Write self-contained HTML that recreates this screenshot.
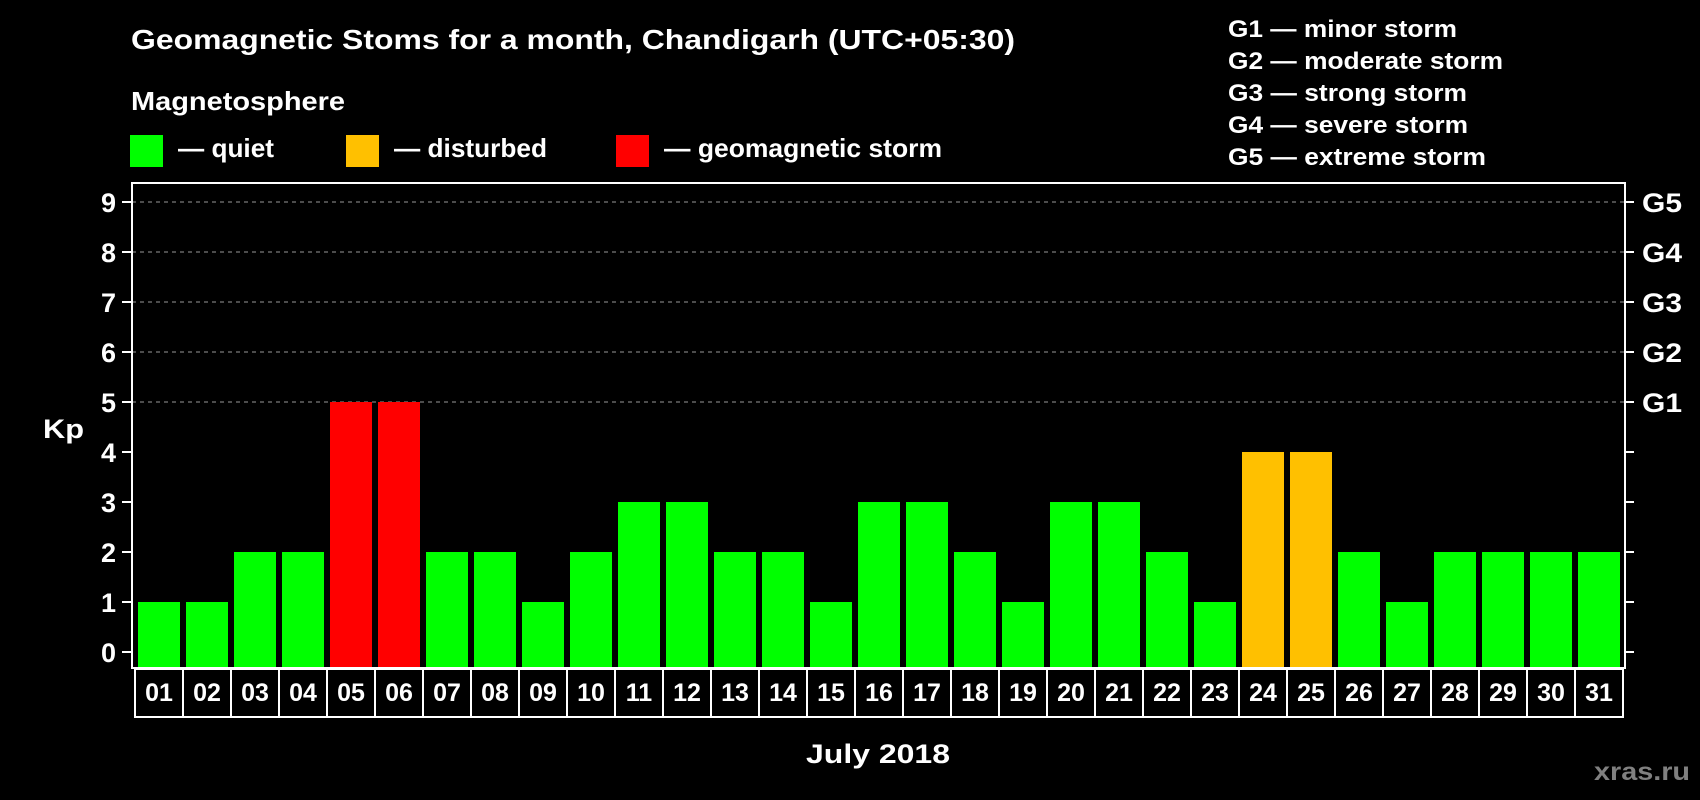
<!DOCTYPE html>
<html><head><meta charset="utf-8"><style>
html,body{margin:0;padding:0;background:#000;}
svg{display:block;font-family:"Liberation Sans",Arial,sans-serif;font-weight:bold;}
</style></head><body>
<svg id="chart" width="1700" height="800" viewBox="0 0 1700 800" xmlns="http://www.w3.org/2000/svg">
<text x="131" y="49" fill="#fff" font-size="28" textLength="884" lengthAdjust="spacingAndGlyphs">Geomagnetic Stoms for a month, Chandigarh (UTC+05:30)</text>
<text x="131" y="110" fill="#fff" font-size="26" textLength="214" lengthAdjust="spacingAndGlyphs">Magnetosphere</text>
<g><rect x="130" y="135" width="33" height="32" fill="#00ff00"/><text x="178" y="157" fill="#fff" font-size="26" textLength="96" lengthAdjust="spacingAndGlyphs">— quiet</text></g>
<g><rect x="346" y="135" width="33" height="32" fill="#ffc000"/><text x="394" y="157" fill="#fff" font-size="26" textLength="153" lengthAdjust="spacingAndGlyphs">— disturbed</text></g>
<g><rect x="616" y="135" width="33" height="32" fill="#ff0000"/><text x="664" y="157" fill="#fff" font-size="26" textLength="278" lengthAdjust="spacingAndGlyphs">— geomagnetic storm</text></g>
<g fill="#fff" font-size="24">
<text x="1228" y="37" textLength="229" lengthAdjust="spacingAndGlyphs">G1 — minor storm</text>
<text x="1228" y="69" textLength="275" lengthAdjust="spacingAndGlyphs">G2 — moderate storm</text>
<text x="1228" y="101" textLength="239" lengthAdjust="spacingAndGlyphs">G3 — strong storm</text>
<text x="1228" y="133" textLength="240" lengthAdjust="spacingAndGlyphs">G4 — severe storm</text>
<text x="1228" y="165" textLength="258" lengthAdjust="spacingAndGlyphs">G5 — extreme storm</text>
</g>
<text x="43" y="438" fill="#fff" font-size="27" textLength="41" lengthAdjust="spacingAndGlyphs">Kp</text>
<text x="806" y="763" fill="#fff" font-size="27" textLength="144" lengthAdjust="spacingAndGlyphs">July 2018</text>
<text x="1594" y="780" fill="#808080" font-size="25" textLength="96" lengthAdjust="spacingAndGlyphs">xras.ru</text>
<g id="grid"></g><g id="bars"></g><g id="axes"></g>
</svg>
<script>
const days = ["01","02","03","04","05","06","07","08","09","10","11","12","13","14","15","16","17","18","19","20","21","22","23","24","25","26","27","28","29","30","31"];
const kpValues = [1,1,2,2,5,5,2,2,1,2,3,3,2,2,1,3,3,2,1,3,3,2,1,4,4,2,1,2,2,2,2];
const yTicks = [0,1,2,3,4,5,6,7,8,9];
const gLabels = ["","","","","","G1","G2","G3","G4","G5"];
const NS="http://www.w3.org/2000/svg";
const L=132,R=1625,T=183,B=668,y0=652,unit=50,x0=138,pitch=48,bw=42;
const y=v=>y0-v*unit;
const x=i=>x0+i*pitch;
function mk(tag,attrs,parent){const e=document.createElementNS(NS,tag);for(const k in attrs)e.setAttribute(k,attrs[k]);parent.appendChild(e);return e;}
const grid=document.getElementById('grid'),bars=document.getElementById('bars'),axes=document.getElementById('axes');
yTicks.forEach((t,i)=>{
  if(t>=5){const g=mk('line',{x1:L,x2:R,y1:y(t),y2:y(t),stroke:'#999','stroke-dasharray':'4,4','stroke-width':1},grid);
  
  }
  mk('line',{x1:122,x2:L,y1:y(t),y2:y(t),stroke:'#fff','stroke-width':2},axes);
  mk('line',{x1:R,x2:1634,y1:y(t),y2:y(t),stroke:'#fff','stroke-width':2},axes);
  const tl=mk('text',{x:116,y:y(t)+10,fill:'#fff','font-size':27,'text-anchor':'end'},axes);
  tl.textContent=t;
  
  
  if(gLabels[i]){const gl=mk('text',{x:1642,y:y(t)+10,fill:'#fff','font-size':27,textLength:40,lengthAdjust:'spacingAndGlyphs'},axes);
  gl.textContent=gLabels[i];
  
  }
});
kpValues.forEach((v,i)=>{
  const c=v>=5?'#ff0000':(v>=4?'#ffc000':'#00ff00');
  const b=mk('rect',{x:x(i),y:y(v),width:bw,height:B-y(v),fill:c},bars);
  
  
  mk('rect',{x:x(i)-3,y:B+1,width:pitch,height:48,fill:'none',stroke:'#fff','stroke-width':2},axes);
  const dl=mk('text',{x:x(i)+bw/2,y:701,fill:'#fff','font-size':25,'text-anchor':'middle'},axes);
  dl.textContent=days[i];
  
  
});
const frame=mk('rect',{x:L,y:T,width:R-L,height:B-T,fill:'none',stroke:'#fff','stroke-width':2},axes);


</script>
</body></html>
